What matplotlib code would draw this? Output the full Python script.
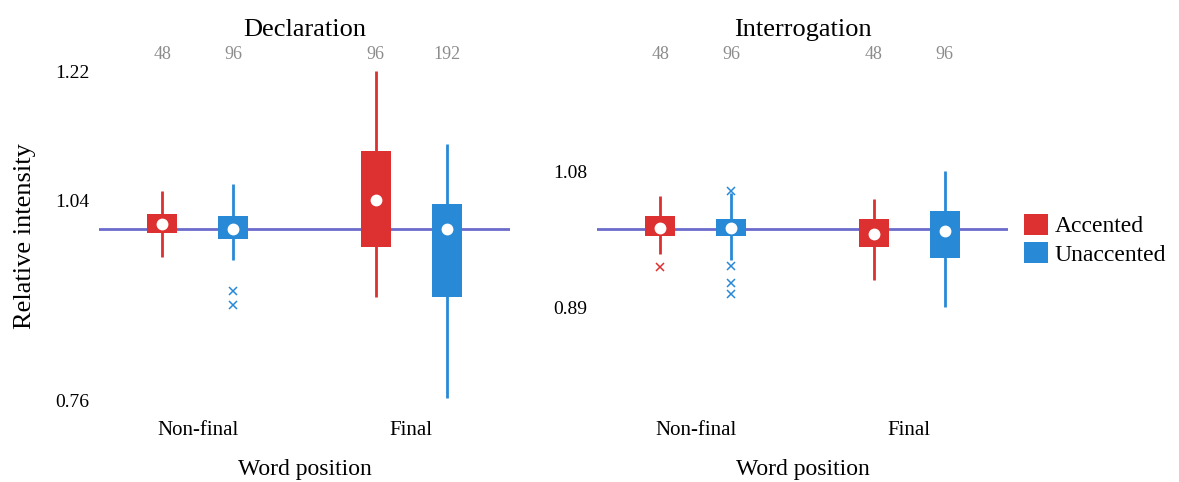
import matplotlib.pyplot as plt
from matplotlib.patches import Patch
from matplotlib.transforms import blended_transform_factory

dpi = 100
plt.rcParams['font.family'] = ['Liberation Serif', 'DejaVu Serif']

red = "#dc3130"
blue = "#288ad6"
ref_color = "#6b6bcc"
count_color = "#8c8c8c"

positions = ["Non-final", "Final"]
accents = ["Accented", "Unaccented"]

# Declaration: order = NF-Acc, NF-Unacc, F-Acc, F-Unacc
decl_whislo = [0.960, 0.956, 0.905, 0.763]
decl_q1 = [0.994, 0.986, 0.974, 0.904]
decl_mean = [1.006, 0.999, 1.040, 0.999]
decl_q3 = [1.021, 1.018, 1.109, 1.034]
decl_whishi = [1.053, 1.062, 1.220, 1.119]
decl_outliers = [[], [0.913, 0.893], [], []]
decl_counts = [48, 96, 96, 192]
decl_ticks = [1.22, 1.04, 0.76]

# Interrogation
intr_whislo = [0.964, 0.956, 0.928, 0.891]
intr_q1 = [0.990, 0.989, 0.974, 0.959]
intr_mean = [1.001, 1.001, 0.993, 0.997]
intr_q3 = [1.018, 1.014, 1.014, 1.025]
intr_whishi = [1.045, 1.050, 1.042, 1.081]
intr_outliers = [[0.947], [1.052, 0.948, 0.924, 0.908], [], []]
intr_counts = [48, 96, 48, 96]
intr_ticks = [1.08, 0.89]

fig = plt.figure(figsize=(11.79, 4.82), dpi=dpi)
ax1 = fig.add_axes([0.0842, 0.140, 0.348, 0.7417])
ax2 = fig.add_axes([0.5066, 0.140, 0.348, 0.7417])

offset = 0.166
width = 0.14
xs = [0 - offset, 0 + offset, 1 - offset, 1 + offset]
colors = [red, blue, red, blue]


def draw_panel(ax, title, whislo, q1, mean, q3, whishi, outliers, counts, ticks):
    ax.axhline(1.0, color=ref_color, lw=2, zorder=1)
    trans = blended_transform_factory(ax.transData, ax.transAxes)
    for i, x in enumerate(xs):
        c = colors[i]
        ax.vlines(x, whislo[i], whishi[i], color=c, lw=2, zorder=2)
        ax.bar(x, q3[i] - q1[i], bottom=q1[i], width=width, color=c, zorder=3)
        ax.plot(x, mean[i], "o", color="white", ms=7.5, zorder=4)
        if outliers[i]:
            ax.plot([x] * len(outliers[i]), outliers[i], "x", color=c,
                    ms=6, mew=1.1, zorder=4)
        ax.text(x, 1.006, str(counts[i]), transform=trans, ha="center",
                va="center", fontsize=13, color=count_color)
    ax.set_xlim(-0.46, 1.46)
    ax.set_ylim(0.74, 1.24)
    ax.set_xticks([0, 1])
    ax.set_xticklabels(positions, fontsize=15)
    ax.set_yticks(ticks)
    ax.set_yticklabels([f"{t:.2f}" for t in ticks], fontsize=14)
    ax.tick_params(length=0, pad=7)
    ax.tick_params(axis="x", pad=5)
    for s in ax.spines.values():
        s.set_visible(False)
    ax.set_title(title, fontsize=19, y=1.035)
    ax.set_xlabel("Word position", fontsize=17, labelpad=13.5)


draw_panel(ax1, "Declaration", decl_whislo, decl_q1, decl_mean, decl_q3,
           decl_whishi, decl_outliers, decl_counts, decl_ticks)
draw_panel(ax2, "Interrogation", intr_whislo, intr_q1, intr_mean, intr_q3,
           intr_whishi, intr_outliers, intr_counts, intr_ticks)
ax1.set_ylabel("Relative intensity", fontsize=19, labelpad=14)

handles = [Patch(facecolor=red, label=accents[0]),
           Patch(facecolor=blue, label=accents[1])]
fig.legend(handles=handles, loc="center left", bbox_to_anchor=(0.8685, 0.503),
           frameon=False, fontsize=17, handlelength=1.0, handleheight=1.0,
           handletextpad=0.3, labelspacing=0.2, borderaxespad=0, borderpad=0)

fig.savefig("out.png", dpi=dpi)
